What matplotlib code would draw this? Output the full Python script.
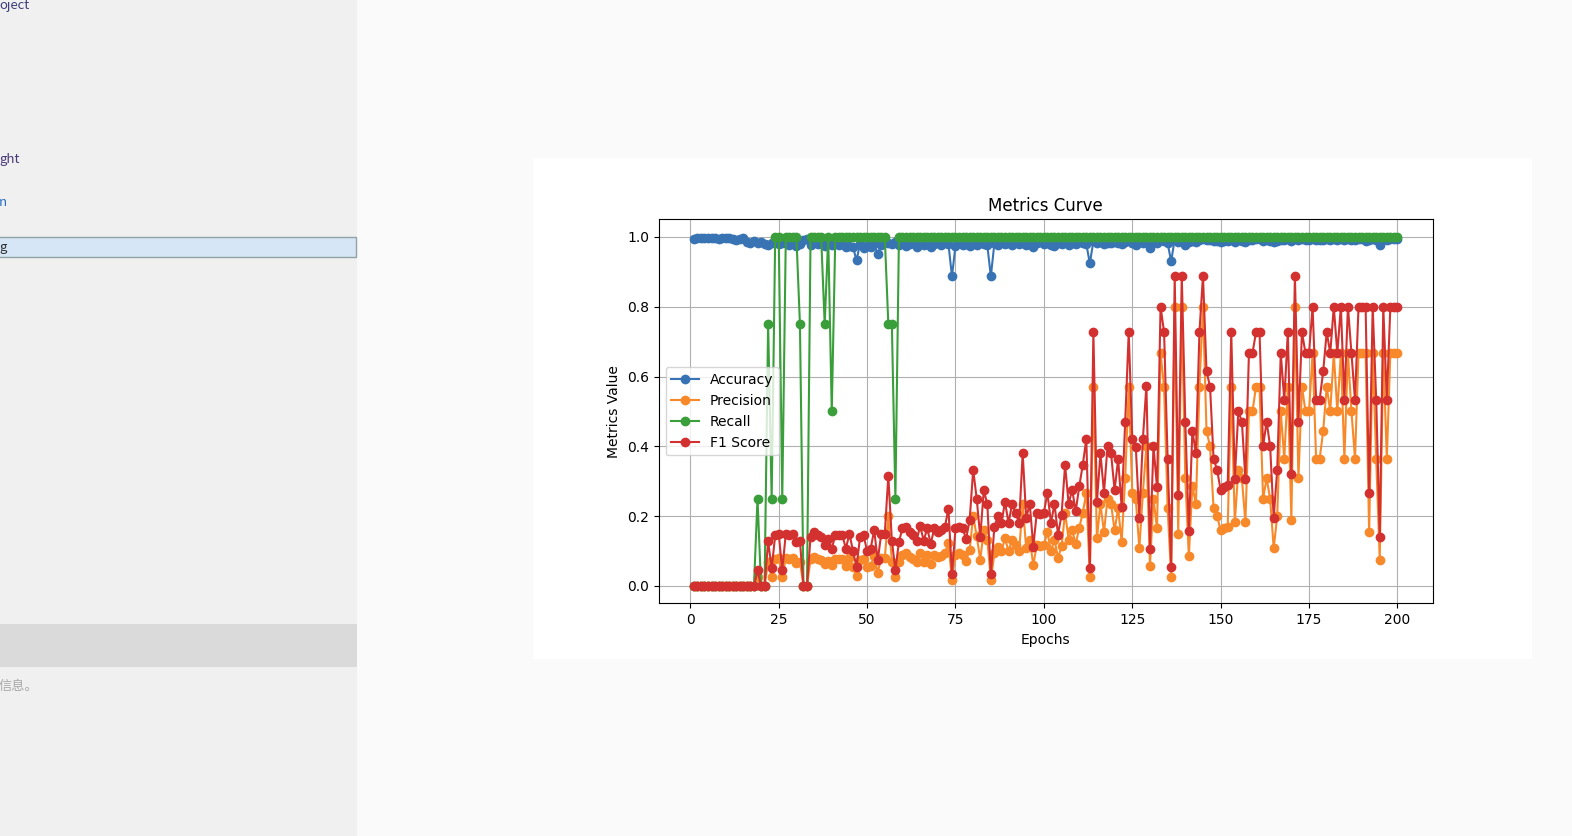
import matplotlib
matplotlib.use('Agg')
import matplotlib.pyplot as plt
from matplotlib.patches import Rectangle

epochs = list(range(1, 201))

accuracy = [
    0.995, 0.997, 0.998, 0.997, 0.998, 0.997, 0.996, 0.995, 0.997, 0.998,
    0.997, 0.995, 0.99, 0.993, 0.996, 0.985, 0.983, 0.988, 0.982, 0.985,
    0.98, 0.978, 0.982, 0.985, 0.98, 0.984, 0.982, 0.978, 0.985, 0.975,
    0.98, 0.99, 0.995, 0.978, 0.985, 0.98, 0.982, 0.975, 0.984, 0.978,
    0.98, 0.976, 0.982, 0.97, 0.975, 0.972, 0.933, 0.98, 0.968, 0.975,
    0.97, 0.982, 0.95, 0.978, 0.985, 0.982, 0.98, 0.985, 0.978, 0.982,
    0.975, 0.98, 0.984, 0.97, 0.982, 0.978, 0.98, 0.972, 0.98, 0.982,
    0.978, 0.985, 0.98, 0.887, 0.975, 0.982, 0.978, 0.98, 0.975, 0.985,
    0.978, 0.982, 0.98, 0.976, 0.887, 0.982, 0.978, 0.985, 0.98, 0.982,
    0.978, 0.985, 0.98, 0.982, 0.978, 0.984, 0.97, 0.982, 0.985, 0.98,
    0.983, 0.978, 0.975, 0.982, 0.98, 0.985, 0.978, 0.982, 0.98, 0.985,
    0.983, 0.98, 0.924, 0.988, 0.982, 0.985, 0.98, 0.984, 0.982, 0.985,
    0.983, 0.98, 0.985, 0.99, 0.982, 0.978, 0.985, 0.982, 0.986, 0.967,
    0.985, 0.982, 0.99, 0.988, 0.982, 0.93, 0.993, 0.985, 0.993, 0.978,
    0.985, 0.987, 0.985, 0.99, 0.993, 0.99, 0.99, 0.987, 0.988, 0.986,
    0.987, 0.988, 0.99, 0.986, 0.99, 0.988, 0.986, 0.992, 0.992, 0.993,
    0.993, 0.988, 0.99, 0.988, 0.985, 0.988, 0.992, 0.99, 0.993, 0.988,
    0.995, 0.99, 0.993, 0.992, 0.992, 0.995, 0.99, 0.99, 0.992, 0.993,
    0.992, 0.995, 0.992, 0.995, 0.99, 0.995, 0.992, 0.99, 0.995, 0.995,
    0.987, 0.99, 0.995, 0.99, 0.977, 0.995, 0.99, 0.995, 0.995, 0.995,
]

precision = [
    0, 0, 0, 0, 0, 0, 0, 0, 0, 0,
    0, 0, 0, 0, 0, 0, 0, 0, 0.025, 0,
    0, 0.07, 0.027, 0.078, 0.081, 0.025, 0.081, 0.078, 0.081, 0.067,
    0.07, 0, 0, 0.076, 0.084, 0.078, 0.075, 0.063, 0.072, 0.06,
    0.078, 0.078, 0.078, 0.057, 0.081, 0.053, 0.028, 0.075, 0.078, 0.053,
    0.057, 0.087, 0.038, 0.081, 0.081, 0.2, 0.07, 0.025, 0.068, 0.09,
    0.093, 0.084, 0.078, 0.07, 0.094, 0.07, 0.09, 0.064, 0.09, 0.084,
    0.087, 0.093, 0.124, 0.017, 0.09, 0.093, 0.09, 0.072, 0.104, 0.2,
    0.143, 0.075, 0.159, 0.133, 0.017, 0.093, 0.111, 0.099, 0.137, 0.099,
    0.133, 0.117, 0.099, 0.235, 0.108, 0.133, 0.06, 0.117, 0.115, 0.117,
    0.154, 0.1, 0.133, 0.08, 0.114, 0.21, 0.133, 0.16, 0.12, 0.166,
    0.21, 0.267, 0.026, 0.571, 0.136, 0.235, 0.154, 0.25, 0.235, 0.159,
    0.222, 0.127, 0.308, 0.571, 0.267, 0.248, 0.108, 0.267, 0.4, 0.057,
    0.25, 0.165, 0.667, 0.571, 0.222, 0.027, 0.8, 0.149, 0.8, 0.308,
    0.085, 0.286, 0.235, 0.571, 0.8, 0.444, 0.4, 0.222, 0.2, 0.159,
    0.165, 0.17, 0.571, 0.182, 0.333, 0.308, 0.182, 0.5, 0.5, 0.571,
    0.571, 0.25, 0.308, 0.25, 0.108, 0.2, 0.5, 0.364, 0.571, 0.19,
    0.8, 0.308, 0.571, 0.5, 0.5, 0.667, 0.364, 0.364, 0.444, 0.571,
    0.5, 0.667, 0.5, 0.667, 0.364, 0.667, 0.5, 0.364, 0.667, 0.667,
    0.667, 0.154, 0.667, 0.364, 0.075, 0.667, 0.364, 0.667, 0.667, 0.667,
]

recall = [
    0, 0, 0, 0, 0, 0, 0, 0, 0, 0,
    0, 0, 0, 0, 0, 0, 0, 0, 0.25, 0,
    0, 0.75, 0.25, 1, 1, 0.25, 1, 1, 1, 1,
    0.75, 0, 0, 1, 1, 1, 1, 0.75, 1, 0.5,
    1, 1, 1, 1, 1, 1, 1, 1, 1, 1,
    1, 1, 1, 1, 1, 0.75, 0.75, 0.25, 1, 1,
    1, 1, 1, 1, 1, 1, 1, 1, 1, 1,
    1, 1, 1, 1, 1, 1, 1, 1, 1, 1,
    1, 1, 1, 1, 1, 1, 1, 1, 1, 1,
    1, 1, 1, 1, 1, 1, 1, 1, 1, 1,
    1, 1, 1, 1, 1, 1, 1, 1, 1, 1,
    1, 1, 1, 1, 1, 1, 1, 1, 1, 1,
    1, 1, 1, 1, 1, 1, 1, 1, 1, 1,
    1, 1, 1, 1, 1, 1, 1, 1, 1, 1,
    1, 1, 1, 1, 1, 1, 1, 1, 1, 1,
    1, 1, 1, 1, 1, 1, 1, 1, 1, 1,
    1, 1, 1, 1, 1, 1, 1, 1, 1, 1,
    1, 1, 1, 1, 1, 1, 1, 1, 1, 1,
    1, 1, 1, 1, 1, 1, 1, 1, 1, 1,
    1, 1, 1, 1, 1, 1, 1, 1, 1, 1,
]

f1_score = [
    0, 0, 0, 0, 0, 0, 0, 0, 0, 0,
    0, 0, 0, 0, 0, 0, 0, 0, 0.045, 0,
    0, 0.128, 0.05, 0.145, 0.15, 0.045, 0.15, 0.145, 0.15, 0.125,
    0.128, 0, 0, 0.141, 0.155, 0.145, 0.14, 0.116, 0.135, 0.107,
    0.145, 0.145, 0.145, 0.107, 0.15, 0.1, 0.055, 0.14, 0.145, 0.1,
    0.107, 0.16, 0.073, 0.15, 0.15, 0.316, 0.13, 0.045, 0.127, 0.165,
    0.17, 0.155, 0.145, 0.13, 0.172, 0.13, 0.165, 0.121, 0.165, 0.155,
    0.16, 0.17, 0.221, 0.033, 0.165, 0.17, 0.165, 0.135, 0.188, 0.333,
    0.25, 0.14, 0.274, 0.235, 0.033, 0.17, 0.2, 0.18, 0.241, 0.18,
    0.235, 0.21, 0.18, 0.381, 0.195, 0.235, 0.113, 0.21, 0.207, 0.21,
    0.267, 0.181, 0.235, 0.147, 0.204, 0.347, 0.235, 0.276, 0.214, 0.285,
    0.347, 0.421, 0.05, 0.727, 0.24, 0.38, 0.267, 0.4, 0.38, 0.274,
    0.364, 0.226, 0.471, 0.727, 0.421, 0.398, 0.195, 0.421, 0.574, 0.107,
    0.4, 0.283, 0.8, 0.727, 0.364, 0.053, 0.889, 0.26, 0.889, 0.471,
    0.157, 0.445, 0.38, 0.727, 0.889, 0.615, 0.571, 0.364, 0.333, 0.274,
    0.283, 0.29, 0.727, 0.307, 0.5, 0.471, 0.307, 0.667, 0.667, 0.727,
    0.727, 0.4, 0.471, 0.4, 0.195, 0.333, 0.667, 0.533, 0.727, 0.32,
    0.889, 0.471, 0.727, 0.667, 0.667, 0.8, 0.533, 0.533, 0.615, 0.727,
    0.667, 0.8, 0.667, 0.8, 0.533, 0.8, 0.667, 0.533, 0.8, 0.8,
    0.8, 0.267, 0.8, 0.533, 0.14, 0.8, 0.533, 0.8, 0.8, 0.8,
]

series_names = ['Accuracy', 'Precision', 'Recall', 'F1 Score']
series_colors = ['#3874b4', '#f8892a', '#3a9f3a', '#d23130']

W, H = 1572, 836
fig = plt.figure(figsize=(W / 100, H / 100), dpi=100)
fig.patch.set_facecolor('#fafafa')


def box(x0, y0, x1, y1, fc, ec='none', lw=0, z=0):
    fig.add_artist(Rectangle((x0 / W, 1 - y1 / H), (x1 - x0) / W, (y1 - y0) / H,
                             transform=fig.transFigure, facecolor=fc,
                             edgecolor=ec, linewidth=lw, zorder=z))


def ftext(x, y, s, color, size=9):
    fig.text(x / W, 1 - y / H, s, color=color, fontsize=size, va='center', ha='left',
             family=['Noto Sans CJK SC', 'DejaVu Sans'])


# left side panel of the host application
box(0, 0, 357, 836, '#f0f0f0')
box(-2, 237, 356, 257, '#d6e6f7', ec='#8fa3a3', lw=1)
box(0, 624, 357, 667, '#dadada')
ftext(-1, 6, 'oject', '#3c3c78', 9.5)
ftext(-1, 159, 'ght', '#4b3a78', 9.5)
ftext(-1, 203, 'n', '#2a6fc0', 9.5)
ftext(-1, 247, 'g', '#303030', 9.5)
ftext(-1, 686, '信息。', '#a8a8a8', 9.5)

# white card that holds the chart
box(533, 158, 1532, 659, 'white')

ax = fig.add_axes([658.7 / W, 1 - 603.4 / H, (1432.6 - 658.7) / W, (603.4 - 219.5) / H])
ax.set_facecolor('white')
for vals, name, col in zip([accuracy, precision, recall, f1_score], series_names, series_colors):
    ax.plot(epochs, vals, marker='o', label=name, color=col)

ax.set_title('Metrics Curve', fontsize=12)
ax.set_xlabel('Epochs', fontsize=10)
ax.set_ylabel('Metrics Value', fontsize=10)
ax.legend(loc='center left', fontsize=10)
ax.grid(True)

fig.savefig('out.png', dpi=100, facecolor=fig.get_facecolor())
